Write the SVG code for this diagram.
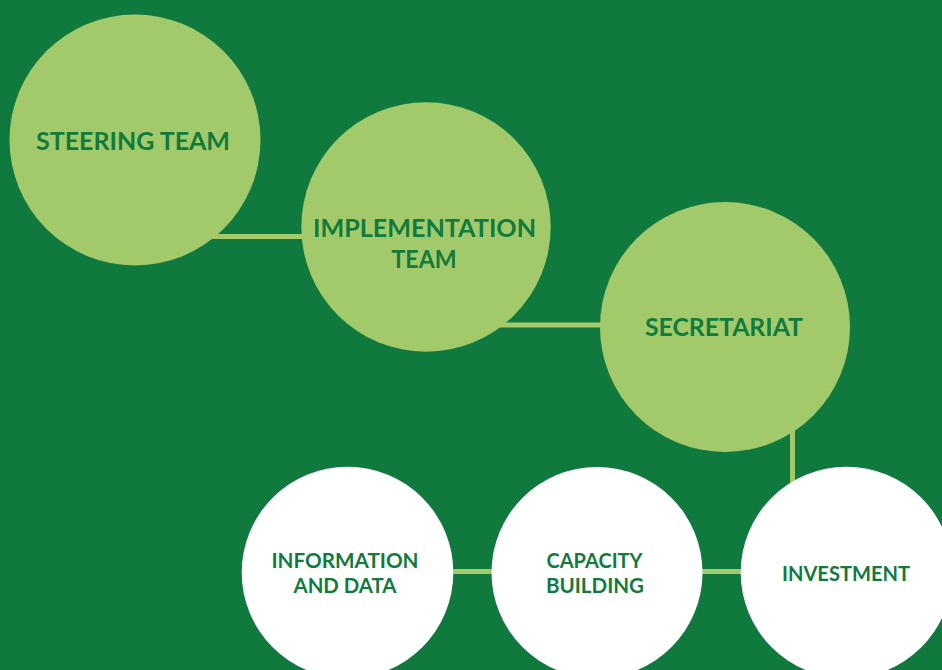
<svg xmlns="http://www.w3.org/2000/svg" width="942" height="670" viewBox="0 0 942 670">
<style>
.bg{fill:#107A3E}
.lg{fill:#A2C96A}
.wh{fill:#FFFFFF}
.conn{stroke:#A2C96A;stroke-width:5;fill:none}
.t{font-family:"Lato","Liberation Sans",sans-serif;font-weight:700;fill:#117A3D;text-anchor:middle}
.big{font-size:25px}
.mid{font-size:24px}
.sm{font-size:20px}
</style>
<rect class="bg" x="0" y="0" width="942" height="670"/>
<g id="connectors">
<line class="conn" x1="180" y1="236.5" x2="320" y2="236.5"/>
<line class="conn" x1="480" y1="325" x2="620" y2="325"/>
<line class="conn" x1="792.5" y1="420" x2="792.5" y2="500"/>
<line class="conn" x1="430" y1="571.5" x2="770" y2="571.5"/>
</g>
<g id="steering-team">
<circle class="lg" cx="135" cy="140" r="125.5"/>
<text class="t big" x="133" y="150" textLength="194" lengthAdjust="spacingAndGlyphs">STEERING TEAM</text>
</g>
<g id="implementation-team">
<circle class="lg" cx="426" cy="227" r="124.7"/>
<text class="t mid" x="424.5" y="236.7" textLength="223" lengthAdjust="spacingAndGlyphs">IMPLEMENTATION</text>
<text class="t mid" x="424" y="268.3" textLength="65" lengthAdjust="spacingAndGlyphs">TEAM</text>
</g>
<g id="secretariat">
<circle class="lg" cx="725" cy="327" r="125"/>
<text class="t mid" x="724" y="336" textLength="158" lengthAdjust="spacingAndGlyphs">SECRETARIAT</text>
</g>
<g id="information-and-data">
<circle class="wh" cx="347.5" cy="572.5" r="105.8"/>
<text class="t sm" x="345" y="568.3" textLength="147" lengthAdjust="spacingAndGlyphs">INFORMATION</text>
<text class="t sm" x="345" y="593.3" textLength="103" lengthAdjust="spacingAndGlyphs">AND DATA</text>
</g>
<g id="capacity-building">
<circle class="wh" cx="597" cy="572.5" r="105.5"/>
<text class="t sm" x="594.5" y="567.7" textLength="96" lengthAdjust="spacingAndGlyphs">CAPACITY</text>
<text class="t sm" x="595" y="593.3" textLength="98" lengthAdjust="spacingAndGlyphs">BUILDING</text>
</g>
<g id="investment">
<circle class="wh" cx="846.5" cy="572.5" r="105.8"/>
<text class="t sm" x="846" y="580.7" textLength="128" lengthAdjust="spacingAndGlyphs">INVESTMENT</text>
</g>
</svg>
